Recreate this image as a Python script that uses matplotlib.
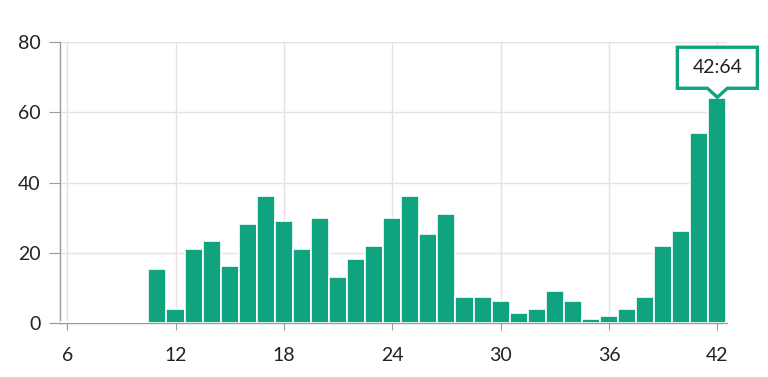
import matplotlib
matplotlib.use("Agg")
import matplotlib.pyplot as plt
import matplotlib.transforms as mtransforms
from matplotlib.patches import Polygon
import numpy as np

plt.rcParams["font.family"] = ["Lato", "DejaVu Sans"]

# x categories (integer bins) and bar heights
bins = list(range(6, 43))
counts = [0, 0, 0, 0, 0,
          15.4, 4.0, 21.0, 23.5, 16.3, 28.2, 36.2, 29.1, 21.0, 30.0,
          13.1, 18.3, 22.0, 30.0, 36.2, 25.3, 31.0, 7.4, 7.4, 6.3,
          3.0, 4.0, 9.2, 6.3, 1.1, 2.1, 4.0, 7.4, 22.0, 26.3, 54.2, 64.0]
xticks = [6, 12, 18, 24, 30, 36, 42]
yticks = [0, 20, 40, 60, 80]
tip_label = "42:64"
tip_x, tip_y = 42, 64

GREEN = "#10a37f"
GRID = "#e3e3e3"
AXIS = "#9a9a9a"

fig = plt.figure(figsize=(7.68, 3.77), dpi=100)
ax = fig.add_axes([0.078, 0.1424, 0.869, 0.7462])

# empty bins still show as a thin sliver, like the source chart
heights = np.maximum(np.array(counts), 0.3)
ax.bar(bins, heights, width=1.0, color=GREEN, edgecolor="white",
       linewidth=1.2, zorder=3)

ax.set_xlim(5.6, 42.55)
ax.set_ylim(0, 80)
ax.set_xticks(xticks)
ax.set_yticks(yticks)
ax.grid(True, color=GRID, linewidth=1.0, zorder=0)

for side in ("top", "right"):
    ax.spines[side].set_visible(False)
for side in ("left", "bottom"):
    ax.spines[side].set_color(AXIS)
    ax.spines[side].set_linewidth(1.0)
    ax.spines[side].set_zorder(2.5)

ax.tick_params(axis="y", length=8, color=AXIS, labelsize=14,
               labelcolor="#222222", pad=6)
ax.tick_params(axis="x", length=5, color=AXIS, labelsize=14,
               labelcolor="#222222", pad=12)

# tooltip: box + pointer as one outline, sized in pixels from the bar top
tip_px = ax.transData.transform((tip_x, tip_y))
to_tip = mtransforms.Affine2D().translate(tip_px[0], tip_px[1] + 1)
outline = [[0, 0], [10, 9], [40, 9], [40, 50], [-40, 50], [-40, 9], [-10, 9]]
ax.add_patch(Polygon(outline, closed=True, fc="white", ec=GREEN, lw=2.4,
                     joinstyle="miter", transform=to_tip, clip_on=False, zorder=6))
ax.text(0, 30, tip_label, transform=to_tip, ha="center", va="center",
        fontsize=14, color="#222222", zorder=7)

fig.savefig("out.png", dpi=100)
